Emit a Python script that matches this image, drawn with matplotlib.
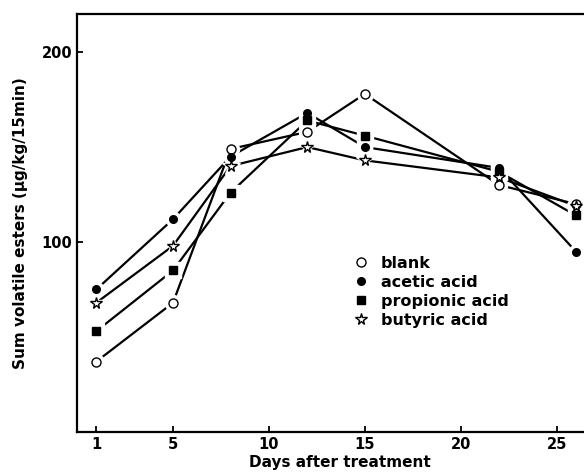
import matplotlib
matplotlib.use("Agg")
import matplotlib.pyplot as plt

days = [1, 5, 8, 12, 15, 22, 26]
blank = [37, 68, 149, 158, 178, 130, 120]
acetic = [75, 112, 145, 168, 150, 139, 95]
propionic = [53, 85, 126, 164, 156, 137, 114]
butyric = [68, 98, 140, 150, 143, 134, 119]

series = [
    ("blank", blank, "o", "white", 6.5),
    ("acetic acid", acetic, "o", "black", 5.5),
    ("propionic acid", propionic, "s", "black", 6),
    ("butyric acid", butyric, "*", "white", 8.5),
]

plt.rcParams['font.family'] = ['DejaVu Sans']
fig = plt.figure(figsize=(5.84, 4.72), dpi=100)
ax = fig.add_axes([0.132, 0.085, 0.90, 0.885])

for name, vals, m, fc, ms in series:
    ax.plot(days, vals, color="black", lw=1.6, solid_capstyle="butt", zorder=2)
for name, vals, m, fc, ms in series:
    ax.plot(days, vals, ls="none", marker=m, ms=ms + 5, mfc="white", mec="white", zorder=3)
handles = []
for name, vals, m, fc, ms in series:
    h, = ax.plot(days, vals, ls="none", marker=m, ms=ms, mfc=fc, mec="black", mew=1.0,
                 zorder=4, label=name)
    handles.append(h)

ax.set_xlim(0, 27.4)
ax.set_ylim(0, 220)
ax.set_xticks([1, 5, 10, 15, 20, 25])
ax.set_yticks([100, 200])
ax.tick_params(direction="in", length=4, width=1.3, labelsize=10.5)
for lab in ax.get_xticklabels() + ax.get_yticklabels():
    lab.set_fontweight("bold")
for s in ["left", "top", "bottom"]:
    ax.spines[s].set_linewidth(1.6)
ax.spines["right"].set_visible(False)

ax.set_xlabel("Days after treatment", fontsize=11, fontweight="bold", labelpad=2)
ax.set_ylabel("Sum volatile esters (μg/kg/15min)", fontsize=11, fontweight="bold", labelpad=10)

leg = ax.legend(handles=handles, loc="upper left", bbox_to_anchor=(0.532, 0.421),
                frameon=False, fontsize=11.5, handlelength=0.6, handletextpad=0.9,
                labelspacing=0.25, borderpad=0, borderaxespad=0)
for t in leg.get_texts():
    t.set_fontweight("bold")

fig.savefig("out.png", dpi=100)
